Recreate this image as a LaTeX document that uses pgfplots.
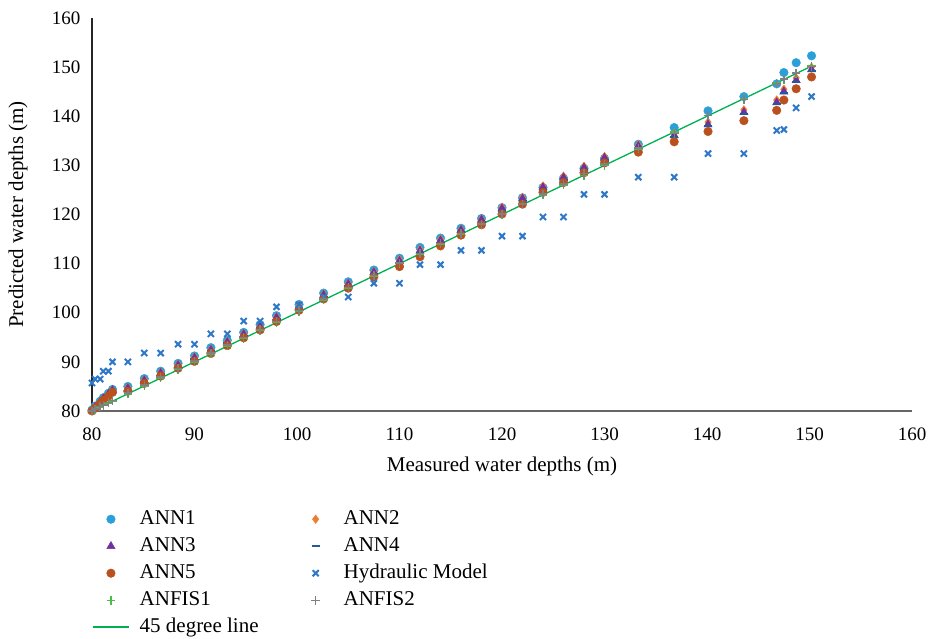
\documentclass[border=0pt]{standalone}
\usepackage{pgfplots}
\pgfplotsset{compat=1.18}
\usepackage{pgfplotstable}
\usepackage{fontspec}
\setmainfont{Liberation Serif}
\definecolor{cANNa}{HTML}{29A0DA}
\definecolor{cANNb}{HTML}{ED7D31}
\definecolor{cANNc}{HTML}{7030A0}
\definecolor{cANNd}{HTML}{1F5C99}
\definecolor{cANNe}{HTML}{B9501E}
\definecolor{cHyd}{HTML}{2E78C8}
\definecolor{cANFa}{HTML}{4CBB4C}
\definecolor{cANFb}{HTML}{808080}
\definecolor{cLine}{HTML}{00B050}
\pgfplotstableread{
x     ann1  ann2  ann3  ann4  ann5  hyd   anf1  anf2
80.0  80.2  80.1  80.1  80.0  80.0  85.7  80.0  80.0
80.3  81.0  80.9  80.8  80.7  80.6  86.5  80.3  80.4
80.8  82.0  81.9  81.8  81.6  81.5  86.5  80.8  80.9
81.1  82.7  82.6  82.5  82.3  82.2  88.1  81.1  81.2
81.6  83.6  83.5  83.4  83.2  83.0  88.1  81.6  81.7
82.0  84.4  84.3  84.2  84.0  83.8  90.0  82.0  82.1
83.5  85.0  84.8  84.6  84.3  84.0  90.0  83.5  83.7
85.1  86.6  86.4  86.2  85.9  85.6  91.8  85.1  85.3
86.7  88.1  87.9  87.7  87.4  87.1  91.8  86.7  86.9
88.4  89.7  89.5  89.3  89.0  88.7  93.6  88.4  88.6
90.0  91.2  91.0  90.8  90.5  90.1  93.6  90.0  90.2
91.6  92.9  92.6  92.4  92.1  91.7  95.7  91.6  91.8
93.2  94.4  94.2  94.0  93.7  93.3  95.7  93.2  93.4
94.8  96.0  95.8  95.6  95.3  94.9  98.3  94.8  95.0
96.4  97.6  97.4  97.2  96.9  96.5  98.3  96.4  96.6
98.0  99.4  99.2  99.0  98.6  98.2  101.2 98.0  98.2
100.2 101.7 101.4 101.2 100.9 100.5 101.6 100.2 100.4
102.6 104.0 103.8 103.6 103.2 102.8 103.2 102.6 102.8
105.0 106.3 106.0 105.8 105.4 105.0 103.2 105.0 105.1
107.5 108.7 108.4 108.2 107.8 107.3 106.0 107.5 107.6
110.0 111.1 110.8 110.5 110.1 109.4 106.0 110.0 110.1
112.0 113.3 112.9 112.6 112.1 111.4 109.8 112.0 112.1
114.0 115.2 115.0 114.7 114.2 113.6 109.8 114.0 114.1
116.0 117.2 117.0 116.8 116.3 115.8 112.7 116.0 116.1
118.0 119.2 119.1 118.9 118.4 117.9 112.7 118.0 118.1
120.0 121.4 121.5 121.2 120.7 120.1 115.6 120.0 120.1
122.0 123.4 123.5 123.2 122.7 122.1 115.6 122.0 122.1
124.0 125.5 125.8 125.5 125.0 124.5 119.5 124.0 124.2
126.0 127.4 127.8 127.5 127.0 126.5 119.5 126.0 126.2
128.0 129.4 129.8 129.5 129.0 128.5 124.1 128.0 128.3
130.0 131.4 131.8 131.5 131.0 130.5 124.1 130.0 130.3
133.3 134.3 134.2 133.9 133.5 132.7 127.6 133.3 133.5
136.8 137.7 136.5 136.1 135.8 134.8 127.6 136.8 136.5
140.1 141.1 138.8 138.3 138.0 136.9 132.4 140.1 140.1
143.6 144.0 141.3 140.8 140.5 139.1 132.4 143.6 143.4
146.8 146.6 143.3 142.8 142.5 141.2 137.1 146.8 146.6
147.5 148.9 145.5 145.0 144.7 143.3 137.3 147.5 147.6
148.7 150.9 147.8 147.3 147.0 145.6 141.7 148.7 148.8
150.2 152.3 150.0 149.5 149.2 148.0 144.0 150.2 150.1
}\data
\pgfplotstableread{
x y
80 80
150 150
}\lineData
\begin{document}
\begin{tikzpicture}
\path[use as bounding box] (-92pt,-228pt) rectangle (843pt,411pt);
\begin{axis}[
  scale only axis,
  width=820pt, height=393pt,
  xmin=80, xmax=160, ymin=80, ymax=160,
  xtick={80,90,...,160}, ytick={80,90,...,160},
  axis lines*=left,
  x axis line style={draw=black!60, line width=1.3pt},
  y axis line style={draw=black!85, line width=1.2pt},
  major tick length=0pt,
  /pgf/number format/assume math mode=true,
  tick label style={font=\fontsize{19}{19}\selectfont},
  xticklabel style={yshift=-13pt},
  yticklabel style={xshift=-8pt},
  xlabel={Measured water depths (m)},
  ylabel={Predicted water depths (m)},
  label style={font=\fontsize{21}{21}\selectfont},
  xlabel style={at={([yshift=-55pt]axis description cs:0.5,0)}, anchor=center},
  ylabel style={at={([xshift=-74pt]axis description cs:0,0.5)}, anchor=center, rotate=0},
  legend image code/.code={\path[draw=none,fill=none] (0pt,-1pt) rectangle (36pt,1pt);\draw[mark repeat=2,mark phase=2,#1] plot coordinates {(0pt,0pt) (18pt,0pt) (36pt,0pt)};},
  legend columns=2,
  legend cell align=left,
  legend style={at={([yshift=-98pt]axis description cs:0,0)}, anchor=north west,
    draw=none, fill=none, inner sep=0pt, row sep=7pt,
    font=\fontsize{21}{21}\selectfont,
    nodes={inner sep=0pt, text height=15pt, text depth=5pt},
    /tikz/every odd column/.append style={column sep=10pt},
    /tikz/every even column/.append style={column sep=39pt}},
]
\addplot[only marks, color=cANNa, mark=*, mark size=4.3pt, mark options={solid, draw=none, fill=cANNa}] table[x=x,y=ann1] {\data};
\addlegendentry{ANN1}
\addplot[only marks, color=cANNb, mark=diamond*, mark size=4.3pt, mark options={solid, draw=none, fill=cANNb}] table[x=x,y=ann2] {\data};
\addlegendentry{ANN2}
\addplot[only marks, color=cANNc, mark=triangle*, mark size=4.8pt, mark options={solid, draw=none, fill=cANNc}] table[x=x,y=ann3] {\data};
\addlegendentry{ANN3}
\addplot[only marks, color=cANNd, mark=-, mark size=4pt, mark options={solid, line width=2.5pt}] table[x=x,y=ann4] {\data};
\addlegendentry{ANN4}
\addplot[only marks, color=cANNe, mark=*, mark size=4.3pt, mark options={solid, draw=none, fill=cANNe}] table[x=x,y=ann5] {\data};
\addlegendentry{ANN5}
\addplot[only marks, color=cHyd, mark=x, mark size=4.3pt, mark options={solid, line width=2pt}] table[x=x,y=hyd] {\data};
\addlegendentry{Hydraulic Model}
\addplot[only marks, color=cANFa, mark=+, mark size=4.3pt, mark options={solid, line width=1.4pt}] table[x=x,y=anf1] {\data};
\addlegendentry{ANFIS1}
\addplot[only marks, color=cANFb, mark=+, mark size=4.3pt, mark options={solid, line width=1.4pt}] table[x=x,y=anf2] {\data};
\addlegendentry{ANFIS2}
\addplot[no marks, color=cLine, draw=cLine, line width=1.3pt,
  legend image code/.code={\draw[draw=cLine, line width=1.5pt] (0pt,0pt) -- (36pt,0pt);}] table[x=x,y=y] {\lineData};
\addlegendentry{45 degree line}
\end{axis}
\end{tikzpicture}
\end{document}
